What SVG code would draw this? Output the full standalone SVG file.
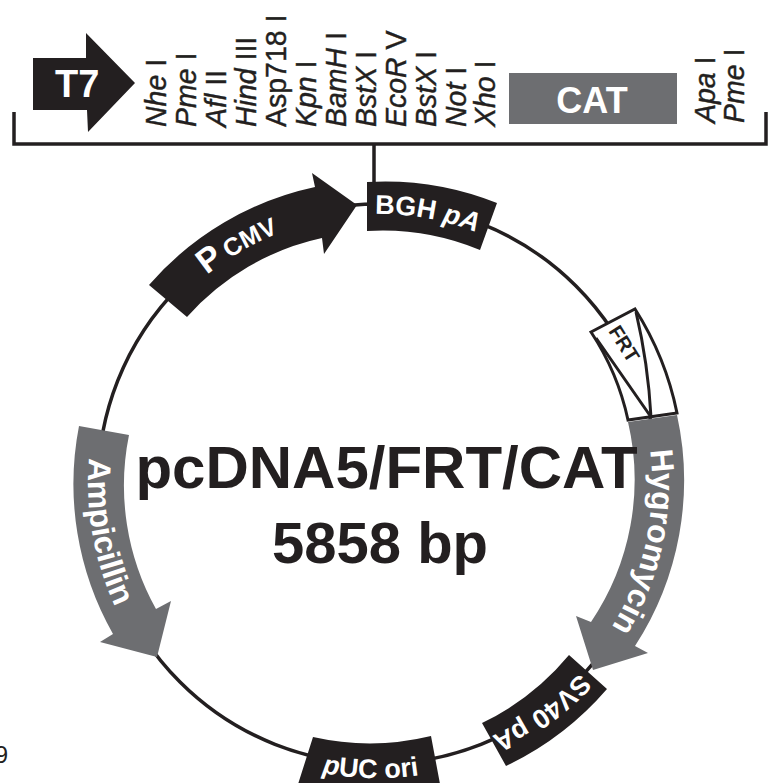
<svg xmlns="http://www.w3.org/2000/svg" width="768" height="783" viewBox="0 0 768 783">
<style>
text{font-family:"Liberation Sans",Arial,sans-serif}
.d{fill:#231f20}
.g{fill:#6d6e71}
.w{fill:#fff;font-weight:bold}
.l{fill:none;stroke:#231f20;stroke-width:3.5}
.site{fill:#231f20;font-size:28.5px;stroke:#231f20;stroke-width:.4}
.site tspan{font-style:italic}
.frt{fill:#fff;stroke:#231f20;stroke-width:3}
.frl{fill:none;stroke:#231f20;stroke-width:3}
</style>
<defs>
<path id="pAmp" d="M89.2 458A290 290 0 0 0 133.5 640"/>
<path id="pHyg" d="M649.9 450A274 274 0 0 1 569.5 680"/>
<path id="pCmv" d="M207 275A270 270 0 0 1 348 216"/>
<path id="pBgh" d="M375 214A270 270 0 0 1 518 253"/>
<path id="pSv" d="M580 673A277 277 0 0 1 438 754"/>
<path id="pUc" d="M322 773A294 294 0 0 0 458 767"/>
</defs>
<rect width="768" height="783" fill="#fff"/>
<g id="connectors">
<circle class="l" cx="378" cy="484" r="280"/>
<path class="l" d="M14 112V144H766V112M374 144V184"/>
</g>
<g id="T7">
<path class="d" d="M33 58H86V33L135 83L88 132L87 110H33Z"/>
<text class="w" x="55" y="97" font-size="38">T7</text>
</g>
<g id="sites">
<text class="site" transform="translate(166 127) rotate(-90) scale(1 1.06)"><tspan>Nhe</tspan> I</text>
<text class="site" transform="translate(196 127) rotate(-90) scale(1 1.06)"><tspan>Pme</tspan> I</text>
<text class="site" transform="translate(226 127) rotate(-90) scale(1 1.06)"><tspan>Afl</tspan> II</text>
<text class="site" transform="translate(256 127) rotate(-90) scale(1 1.06)"><tspan>Hind</tspan> III</text>
<text class="site" transform="translate(286 127) rotate(-90) scale(1 1.06)">Asp718 I</text>
<text class="site" transform="translate(316 127) rotate(-90) scale(1 1.06)"><tspan>Kpn</tspan> I</text>
<text class="site" transform="translate(346 127) rotate(-90) scale(1 1.06)"><tspan>BamH</tspan> I</text>
<text class="site" transform="translate(376 127) rotate(-90) scale(1 1.06)"><tspan>BstX</tspan> I</text>
<text class="site" transform="translate(406 127) rotate(-90) scale(1 1.06)"><tspan>EcoR</tspan> V</text>
<text class="site" transform="translate(436 127) rotate(-90) scale(1 1.06)"><tspan>BstX</tspan> I</text>
<text class="site" transform="translate(466 127) rotate(-90) scale(1 1.06)"><tspan>Not</tspan> I</text>
<text class="site" transform="translate(495 127) rotate(-90) scale(1 1.06)"><tspan>Xho</tspan> I</text>
<text class="site" transform="translate(715 123) rotate(-90) scale(1 1.06)"><tspan>Apa</tspan> I</text>
<text class="site" transform="translate(744 123) rotate(-90) scale(1 1.06)"><tspan>Pme</tspan> I</text>
</g>
<g id="CAT">
<rect class="g" x="509" y="73" width="168" height="51"/>
<text class="w" x="592" y="113" font-size="36" text-anchor="middle">CAT</text>
</g>
<g id="PCMV">
<path class="d" d="M149 285A304 304 0 0 1 315 187L312 173L357 205L324 254L322 238A252 252 0 0 0 187 317Z"/>
<text class="w" font-size="34"><textPath href="#pCmv">P<tspan font-size="25" dx="5">CMV</tspan></textPath></text>
</g>
<g id="BGHpA">
<path class="d" d="M367 182A303 303 0 0 1 497 203L480 250A254 254 0 0 0 367 231Z"/>
<text class="w" font-size="27"><textPath href="#pBgh">BGH <tspan font-style="italic">pA</tspan></textPath></text>
</g>
<g id="FRT">
<path class="frt" d="M591 332L635 309A308 308 0 0 1 677 413L628 420A258 258 0 0 0 591 332Z"/>
<path class="frl" d="M596 338L651 417M636 312A600 600 0 0 1 651 417"/>
<text transform="translate(608 331) rotate(58)" font-size="20" font-weight="bold" fill="#231f20">FRT</text>
</g>
<g id="Hygromycin">
<path class="g" d="M628 422L677 415A304 304 0 0 1 635 646L648 653L593 670L576 616L591 622A254 254 0 0 0 628 422Z"/>
<text class="w" font-size="32"><textPath href="#pHyg">Hygromycin</textPath></text>
</g>
<g id="SV40pA">
<path class="d" d="M569 655L607 689A308 308 0 0 1 506 766L482 723A258 258 0 0 0 569 655Z"/>
<text class="w" font-size="27"><textPath href="#pSv">SV40 pA</textPath></text>
</g>
<g id="pUCori">
<path class="d" d="M313 737A260 260 0 0 0 431 736L443 800H293Z"/>
<text class="w" font-size="27"><textPath href="#pUc"><tspan font-style="italic">p</tspan>UC ori</textPath></text>
</g>
<g id="Ampicillin">
<path class="g" d="M79 426L129 435A254 254 0 0 0 156 609L171 601L157 657L100 642L113 634A304 304 0 0 1 79 426Z"/>
<text class="w" font-size="32"><textPath href="#pAmp">Ampicillin</textPath></text>
</g>
<g id="title">
<text x="386.5" y="488" font-size="60" font-weight="bold" fill="#231f20" text-anchor="middle">pcDNA5/FRT/CAT</text>
<text x="380" y="563" font-size="58" font-weight="bold" fill="#231f20" text-anchor="middle">5858 bp</text>
</g>
<text x="8" y="763" font-size="24" fill="#231f20" text-anchor="end">9</text>
</svg>
